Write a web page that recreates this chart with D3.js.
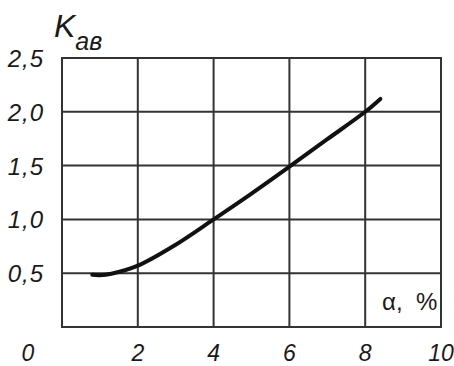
<!DOCTYPE html>
<html>
<head>
<meta charset="utf-8">
<script src="https://cdn.jsdelivr.net/npm/d3@7"></script>
<style>
  html, body { margin: 0; padding: 0; background: #fff; }
  svg { display: block; }
  text { font-family: "Liberation Sans", Arial, sans-serif; fill: #1a1a1a; }
</style>
</head>
<body>
<svg id="chart" width="454" height="366"></svg>
<script>
// Coefficient K_ав versus α, %
const alphaValues = [0.8, 1.0, 1.3, 2.0, 3.0, 4.0, 5.0, 6.0, 7.0, 8.0, 8.4];
const kValues     = [0.485, 0.482, 0.495, 0.57, 0.765, 1.0, 1.24, 1.49, 1.745, 2.0, 2.12];

const xTicks = [0, 2, 4, 6, 8, 10];
const xTickLabels = ["0", "2", "4", "6", "8", "10"];
const yTicks = [0.5, 1.0, 1.5, 2.0, 2.5];
const yTickLabels = ["0,5", "1,0", "1,5", "2,0", "2,5"];

const svg = d3.select("#chart");
const x = d3.scaleLinear().domain([0, 10]).range([62, 441]);
const y = d3.scaleLinear().domain([0, 2.5]).range([327, 58]);

const gridColor = "#333";

// grid lines
const grid = svg.append("g").attr("stroke", gridColor).attr("stroke-width", 2);
grid.selectAll("line.v").data(xTicks).join("line")
  .attr("class", "v")
  .attr("x1", d => x(d)).attr("x2", d => x(d))
  .attr("y1", y(2.5) - 1).attr("y2", y(0) + 1);
grid.selectAll("line.h").data([0].concat(yTicks)).join("line")
  .attr("class", "h")
  .attr("x1", x(0) - 1).attr("x2", x(10) + 1)
  .attr("y1", d => y(d)).attr("y2", d => y(d));

// y tick labels
svg.append("g").selectAll("text").data(yTicks).join("text")
  .attr("x", 44).attr("y", d => y(d) + 9)
  .attr("text-anchor", "end")
  .attr("font-size", 24).attr("font-style", "italic")
  .attr("letter-spacing", 1)
  .text((d, i) => yTickLabels[i]);

// x tick labels ("0" sits in the label column at the corner)
svg.append("g").selectAll("text").data(xTicks).join("text")
  .attr("x", d => d === 0 ? 28 : x(d))
  .attr("y", 361)
  .attr("text-anchor", "middle")
  .attr("font-size", 23).attr("font-style", "italic")
  .text((d, i) => xTickLabels[i]);

// axis titles
const kTitle = svg.append("text").attr("x", 54).attr("y", 37)
  .attr("font-size", 32).attr("font-style", "italic");
kTitle.append("tspan").text("K");
kTitle.append("tspan").attr("font-size", 25).attr("dy", 13).text("ав");

svg.append("text").attr("x", 382).attr("y", 310)
  .attr("font-size", 24)
  .attr("xml:space", "preserve")
  .text("α,  %");

// curve
const pts = alphaValues.map((a, i) => [a, kValues[i]]);
svg.append("path").datum(pts)
  .attr("fill", "none").attr("stroke", "#111").attr("stroke-width", 4)
  .attr("stroke-linecap", "round")
  .attr("d", d3.line().x(d => x(d[0])).y(d => y(d[1])).curve(d3.curveCatmullRom.alpha(0.5)));
</script>
</body>
</html>
